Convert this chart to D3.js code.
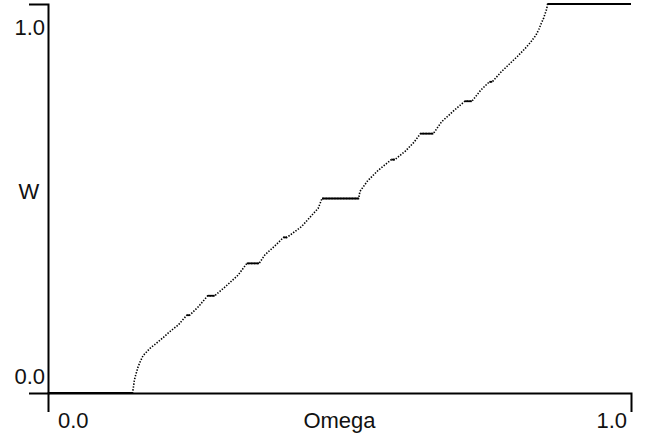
<!DOCTYPE html>
<html>
<head>
<meta charset="utf-8">
<script src="https://cdn.jsdelivr.net/npm/d3@7"></script>
<style>
  body { margin: 0; background: #fff; }
  text { font-family: "Liberation Sans", Arial, sans-serif; fill: #111; }
</style>
</head>
<body>
<div id="vis"></div>
<script>

var width = 648,
  height = 438;

// Winding number W versus Omega
var omega = [ 0.000, 0.145, 0.147, 0.148, 0.150, 0.154, 0.158, 0.163, 0.175, 0.186, 0.198,
  0.209, 0.2235, 0.238, 0.243, 0.258, 0.274, 0.286, 0.304, 0.326, 0.341,
  0.362, 0.372, 0.389, 0.404, 0.410, 0.435, 0.4635, 0.470, 0.533, 0.535,
  0.548, 0.566, 0.589, 0.595, 0.613, 0.628, 0.639, 0.661, 0.675, 0.697,
  0.715, 0.727, 0.742, 0.757, 0.762, 0.777, 0.791, 0.805, 0.818, 0.828,
  0.837, 0.842, 0.846, 0.850, 0.852, 0.855, 0.857, 1.000 ];

var winding = [ 0.000, 0.000, 0.020, 0.032, 0.044, 0.065, 0.080, 0.096, 0.115, 0.128, 0.143,
  0.158, 0.175, 0.200, 0.200, 0.222, 0.250, 0.250, 0.273, 0.303, 0.333,
  0.333, 0.355, 0.378, 0.400, 0.400, 0.428, 0.475, 0.500, 0.500, 0.518,
  0.545, 0.572, 0.600, 0.600, 0.622, 0.645, 0.667, 0.667, 0.697, 0.727,
  0.750, 0.750, 0.778, 0.800, 0.800, 0.825, 0.845, 0.865, 0.885, 0.902,
  0.920, 0.935, 0.950, 0.963, 0.972, 0.985, 1.000, 1.000 ];

// locked steps: [ omega start, omega end, W ]
var plateaus = [
  [ 0.000, 0.145, 0 ],
  [ 0.238, 0.243, 1 / 5 ],
  [ 0.274, 0.286, 1 / 4 ],
  [ 0.341, 0.362, 1 / 3 ],
  [ 0.404, 0.410, 2 / 5 ],
  [ 0.470, 0.533, 1 / 2 ],
  [ 0.589, 0.595, 3 / 5 ],
  [ 0.639, 0.661, 2 / 3 ],
  [ 0.715, 0.727, 3 / 4 ],
  [ 0.757, 0.762, 4 / 5 ],
  [ 0.857, 1.000, 1 ]
];

var xTicks = [ 0, 1 ],
  yTicks = [ 0, 1 ];

/* Scales */

var x = d3.scaleLinear()
  .domain( [ 0, 1 ] )
  .range( [ 48, 631 ] );

var y = d3.scaleLinear()
  .domain( [ 0, 1 ] )
  .range( [ 393, 4 ] );

var svg = d3.select( '#vis' ).append( 'svg' )
  .attr( 'width', width )
  .attr( 'height', height );

/* Axes */

svg.append( 'g' )
  .attr( 'transform', 'translate(' + x( 0 ) + ',0)' )
  .call( d3.axisLeft( y ).tickValues( [] ).tickSizeOuter( 19 ) )
  .call( g => g.select( '.domain' ).attr( 'stroke', '#000' ).attr( 'stroke-width', 2 ) );

svg.append( 'g' )
  .attr( 'transform', 'translate(0,' + y( 0 ) + ')' )
  .call( d3.axisBottom( x ).tickValues( [] ).tickSizeOuter( 19 ) )
  .call( g => g.select( '.domain' ).attr( 'stroke', '#000' ).attr( 'stroke-width', 2 ) );

// tick labels sit inside the range, next to the end ticks
svg.selectAll( 'text.ylab' )
  .data( yTicks )
  .enter().append( 'text' )
    .attr( 'class', 'ylab' )
    .attr( 'x', x( 0 ) - 3 )
    .attr( 'y', d => d === 1 ? y( d ) + 31 : y( d ) - 9 )
    .attr( 'text-anchor', 'end' )
    .style( 'font-size', '22px' )
    .text( d => d3.format( '.1f' )( d ) );

svg.selectAll( 'text.xlab' )
  .data( xTicks )
  .enter().append( 'text' )
    .attr( 'class', 'xlab' )
    .attr( 'x', d => d === 0 ? x( d ) + 10 : x( d ) - 4 )
    .attr( 'y', 428 )
    .attr( 'text-anchor', d => d === 0 ? 'start' : 'end' )
    .style( 'font-size', '22px' )
    .text( d => d3.format( '.1f' )( d ) );

svg.append( 'text' )
  .attr( 'x', ( x( 0 ) + x( 1 ) ) / 2 )
  .attr( 'y', 428 )
  .attr( 'text-anchor', 'middle' )
  .style( 'font-size', '22px' )
  .text( 'Omega' );

svg.append( 'text' )
  .attr( 'x', 29 )
  .attr( 'y', ( y( 0 ) + y( 1 ) ) / 2 )
  .attr( 'text-anchor', 'middle' )
  .style( 'font-size', '22px' )
  .text( 'W' );

/* Staircase */

var line = d3.line()
  .x( ( d, i ) => x( omega[ i ] ) )
  .y( ( d, i ) => y( winding[ i ] ) );

svg.append( 'path' )
  .datum( omega )
  .attr( 'd', line )
  .attr( 'fill', 'none' )
  .attr( 'stroke', '#000' )
  .attr( 'stroke-width', 1.6 )
  .attr( 'stroke-dasharray', '1.4,1.5' );

svg.selectAll( 'line.step' )
  .data( plateaus )
  .enter().append( 'line' )
    .attr( 'class', 'step' )
    .attr( 'x1', d => x( d[ 0 ] ) )
    .attr( 'x2', d => x( d[ 1 ] ) )
    .attr( 'y1', d => y( d[ 2 ] ) )
    .attr( 'y2', d => y( d[ 2 ] ) )
    .attr( 'stroke', '#000' )
    .attr( 'stroke-width', 1.8 );

</script>
</body>
</html>
